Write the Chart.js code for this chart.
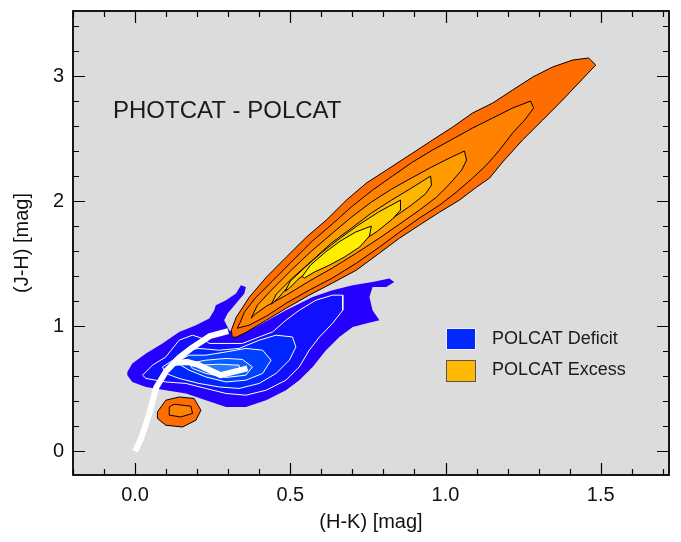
<!DOCTYPE html>
<html>
<head>
<meta charset="utf-8">
<script src="https://cdn.jsdelivr.net/npm/chart.js@4.4.1/dist/chart.umd.min.js"></script>
<style>
  html, body { margin: 0; padding: 0; background: #ffffff; }
  #wrap { width: 681px; height: 542px; }
</style>
</head>
<body>
<div id="wrap"><canvas id="c" width="681" height="542"></canvas></div>
<script>
// Axis ticks (major, labelled)
const xTickValues = [0.0, 0.5, 1.0, 1.5];
const yTickValues = [0, 1, 2, 3];

// POLCAT excess: filled density contours, outermost level first, as [H-K, J-H] vertices
const excessLevel1 = [[0.313,0.912],[0.310,0.968],[0.326,1.072],[0.368,1.232],[0.423,1.392],[0.487,1.552],[0.552,1.712],[0.616,1.848],[0.681,2.008],[0.745,2.144],[0.810,2.248],[0.894,2.384],[0.958,2.488],[1.023,2.592],[1.087,2.704],[1.152,2.784],[1.216,2.888],[1.281,2.992],[1.345,3.072],[1.410,3.128],[1.461,3.144],[1.484,3.088],[1.432,2.952],[1.377,2.808],[1.313,2.648],[1.248,2.488],[1.184,2.312],[1.142,2.184],[1.100,2.112],[1.045,2.008],[0.981,1.912],[0.916,1.808],[0.852,1.704],[0.787,1.584],[0.713,1.448],[0.635,1.344],[0.561,1.248],[0.487,1.144],[0.423,1.048],[0.358,0.952],[0.326,0.912]];
const excessLevel2 = [[0.329,0.984],[0.339,1.032],[0.352,1.112],[0.387,1.224],[0.442,1.360],[0.506,1.520],[0.571,1.680],[0.635,1.816],[0.700,1.960],[0.765,2.088],[0.829,2.200],[0.894,2.312],[0.958,2.408],[1.023,2.496],[1.087,2.584],[1.152,2.664],[1.216,2.744],[1.274,2.800],[1.284,2.744],[1.255,2.648],[1.216,2.544],[1.174,2.408],[1.132,2.288],[1.087,2.184],[1.035,2.072],[0.981,1.968],[0.916,1.864],[0.852,1.752],[0.787,1.632],[0.713,1.504],[0.635,1.384],[0.561,1.288],[0.487,1.184],[0.423,1.080],[0.368,1.008]];
const excessLevel3 = [[0.374,1.064],[0.394,1.168],[0.439,1.288],[0.503,1.448],[0.568,1.600],[0.632,1.736],[0.697,1.872],[0.761,1.992],[0.826,2.096],[0.890,2.184],[0.955,2.272],[1.019,2.352],[1.061,2.400],[1.068,2.328],[1.052,2.248],[1.013,2.136],[0.971,2.032],[0.916,1.928],[0.852,1.816],[0.787,1.704],[0.713,1.584],[0.635,1.464],[0.561,1.360],[0.487,1.248],[0.423,1.160],[0.387,1.096]];
const excessLevel4 = [[0.439,1.176],[0.455,1.256],[0.503,1.376],[0.568,1.520],[0.632,1.664],[0.697,1.784],[0.761,1.904],[0.826,2.008],[0.890,2.104],[0.952,2.200],[0.955,2.128],[0.935,2.056],[0.890,1.968],[0.835,1.872],[0.771,1.760],[0.706,1.656],[0.635,1.552],[0.568,1.448],[0.503,1.344],[0.461,1.224]];
const excessLevel5 = [[0.484,1.280],[0.500,1.360],[0.548,1.472],[0.603,1.592],[0.661,1.704],[0.719,1.808],[0.784,1.912],[0.855,2.008],[0.855,1.928],[0.829,1.856],[0.781,1.760],[0.723,1.664],[0.658,1.568],[0.594,1.480],[0.529,1.384],[0.497,1.304]];
const excessLevel6 = [[0.539,1.400],[0.565,1.488],[0.613,1.592],[0.661,1.680],[0.710,1.752],[0.761,1.800],[0.755,1.720],[0.723,1.632],[0.674,1.552],[0.626,1.488],[0.577,1.432],[0.545,1.384]];
// small excess island near the blue-dwarf end
const excessIslandOuter = [[0.072,0.314],[0.099,0.408],[0.142,0.434],[0.190,0.422],[0.212,0.328],[0.196,0.248],[0.153,0.194],[0.099,0.208],[0.072,0.262]];
const excessIslandInner = [[0.110,0.354],[0.126,0.376],[0.180,0.360],[0.185,0.302],[0.147,0.274],[0.112,0.288]];

// POLCAT deficit: filled density contours, outermost level first
const deficitLevel1 = [[-0.025,0.634],[-0.009,0.702],[0.035,0.782],[0.088,0.862],[0.142,0.954],[0.196,1.008],[0.239,1.062],[0.255,1.128],[0.260,1.168],[0.293,1.208],[0.325,1.262],[0.341,1.328],[0.357,1.314],[0.352,1.262],[0.325,1.182],[0.298,1.102],[0.287,1.048],[0.303,0.968],[0.335,0.928],[0.389,0.994],[0.486,1.128],[0.572,1.234],[0.636,1.288],[0.701,1.328],[0.765,1.354],[0.819,1.382],[0.835,1.354],[0.809,1.314],[0.765,1.314],[0.755,1.234],[0.765,1.128],[0.787,1.048],[0.744,1.022],[0.701,0.994],[0.658,0.914],[0.615,0.808],[0.572,0.674],[0.529,0.568],[0.486,0.488],[0.422,0.408],[0.357,0.354],[0.293,0.354],[0.228,0.408],[0.164,0.462],[0.099,0.488],[0.035,0.514],[-0.009,0.554],[-0.025,0.608]];
const deficitLevel2 = [[0.024,0.608],[0.056,0.688],[0.099,0.754],[0.142,0.888],[0.185,0.928],[0.217,0.902],[0.239,0.862],[0.293,0.862],[0.346,0.862],[0.400,0.914],[0.443,0.954],[0.486,1.048],[0.529,1.128],[0.583,1.208],[0.636,1.248],[0.669,1.248],[0.669,1.128],[0.636,1.022],[0.594,0.914],[0.561,0.808],[0.529,0.674],[0.486,0.568],[0.422,0.488],[0.357,0.448],[0.293,0.462],[0.228,0.502],[0.164,0.542],[0.099,0.554],[0.035,0.582]];
const deficitLevel3 = [[0.088,0.674],[0.131,0.742],[0.164,0.808],[0.206,0.822],[0.271,0.808],[0.335,0.822],[0.400,0.888],[0.454,0.928],[0.507,0.914],[0.518,0.834],[0.497,0.728],[0.454,0.622],[0.400,0.542],[0.335,0.502],[0.271,0.514],[0.206,0.542],[0.142,0.582],[0.099,0.622]];
const deficitLevel4 = [[0.142,0.728],[0.174,0.768],[0.228,0.768],[0.293,0.794],[0.357,0.822],[0.411,0.808],[0.438,0.728],[0.411,0.622],[0.357,0.568],[0.293,0.554],[0.228,0.594],[0.174,0.648],[0.147,0.688]];
const deficitLevel5 = [[0.174,0.702],[0.228,0.728],[0.293,0.742],[0.346,0.734],[0.378,0.674],[0.357,0.608],[0.293,0.590],[0.228,0.622],[0.185,0.662]];
const deficitLevel6 = [[0.206,0.688],[0.271,0.696],[0.335,0.688],[0.341,0.634],[0.282,0.616],[0.219,0.648]];

// Intrinsic colour loci (giant branch and dwarf branch)
const giantLocus = [[0.000,0.000],[0.019,0.100],[0.046,0.300],[0.068,0.510],[0.100,0.640],[0.143,0.750],[0.185,0.830],[0.240,0.920],[0.300,0.960]];
const dwarfLocus = [[0.120,0.705],[0.168,0.714],[0.206,0.688],[0.276,0.608],[0.362,0.662]];

const excessColors = ['#ff6c00', '#ff8200', '#ff9c00', '#ffb600', '#ffd000', '#ffee00'];
const deficitColors = ['#2600ff', '#1010ff', '#0026ff', '#0040ff', '#0a5cff', '#2a7aff'];

const FONT = '"Liberation Sans", Arial, Helvetica, sans-serif';

function toXY(pts) {
  const out = pts.map(p => ({ x: p[0], y: p[1] }));
  out.push({ x: pts[0][0], y: pts[0][1] });
  return out;
}
function contour(pts, fillColor, lineColor, order, width) {
  return {
    data: toXY(pts),
    showLine: true,
    fill: 'shape',
    backgroundColor: fillColor,
    borderColor: lineColor,
    borderWidth: width,
    pointRadius: 0,
    tension: 0,
    order: order
  };
}
function locus(pts, order) {
  return {
    data: pts.map(p => ({ x: p[0], y: p[1] })),
    showLine: true,
    fill: false,
    borderColor: '#ffffff',
    borderWidth: 6,
    borderJoinStyle: 'round',
    pointRadius: 0,
    tension: 0,
    order: order
  };
}

const deficitLevels = [deficitLevel1, deficitLevel2, deficitLevel3, deficitLevel4, deficitLevel5, deficitLevel6];
const excessLevels = [excessLevel1, excessLevel2, excessLevel3, excessLevel4, excessLevel5, excessLevel6];

const datasets = [];
let ord = 100;
deficitLevels.forEach((lv, i) => {
  datasets.push(contour(lv, deficitColors[i], i === 0 ? deficitColors[0] : '#ffffff', ord--, i === 0 ? 0 : 1));
});
datasets.push(locus(giantLocus, ord--));
datasets.push(locus(dwarfLocus, ord--));
excessLevels.forEach((lv, i) => {
  datasets.push(contour(lv, excessColors[i], '#000000', ord--, 1));
});
datasets.push(contour(excessIslandOuter, excessColors[0], '#000000', ord--, 1));
datasets.push(contour(excessIslandInner, excessColors[1], '#000000', ord--, 1));

const frame = {
  id: 'frame',
  beforeDraw(chart) {
    const { ctx, chartArea: a } = chart;
    ctx.save();
    ctx.fillStyle = '#dcdcdc';
    ctx.fillRect(a.left, a.top, a.right - a.left, a.bottom - a.top);
    ctx.restore();
  },
  afterDraw(chart) {
    const { ctx, chartArea: a } = chart;
    const xs = chart.scales.x, ys = chart.scales.y;
    ctx.save();
    ctx.strokeStyle = '#000';
    ctx.lineWidth = 1.2;
    ctx.beginPath();
    // x ticks every 0.1, major every 0.5
    for (let i = -2; i <= 17; i++) {
      const v = i / 10;
      const px = Math.round(xs.getPixelForValue(v)) + 0.5;
      const len = (i % 5 === 0) ? 12 : 6;
      ctx.moveTo(px, a.bottom); ctx.lineTo(px, a.bottom - len);
      ctx.moveTo(px, a.top); ctx.lineTo(px, a.top + len);
    }
    // y ticks every 0.2, major every 1
    for (let i = 0; i <= 17; i++) {
      const v = i / 5;
      const py = Math.round(ys.getPixelForValue(v)) + 0.5;
      const len = (i % 5 === 0) ? 12 : 6;
      ctx.moveTo(a.left, py); ctx.lineTo(a.left + len, py);
      ctx.moveTo(a.right, py); ctx.lineTo(a.right - len, py);
    }
    ctx.stroke();
    ctx.lineWidth = 1.8;
    ctx.strokeRect(a.left, a.top, a.right - a.left, a.bottom - a.top);

    // panel label
    ctx.fillStyle = '#1a1a1a';
    ctx.font = '24px ' + FONT;
    ctx.textAlign = 'left';
    ctx.textBaseline = 'middle';
    ctx.fillText('PHOTCAT - POLCAT', a.left + 40, a.top + 100);

    // legend
    ctx.font = '18px ' + FONT;
    const bx = a.left + 373, bw = 29, bh = 21;
    ctx.fillStyle = '#0028ff';
    ctx.fillRect(bx, a.top + 317, bw, bh);
    ctx.strokeStyle = '#f2f2f2'; ctx.lineWidth = 1;
    ctx.strokeRect(bx + 0.5, a.top + 317.5, bw, bh);
    ctx.fillStyle = '#ffb900';
    ctx.fillRect(bx, a.top + 349, bw, bh);
    ctx.strokeStyle = '#555'; ctx.lineWidth = 1;
    ctx.strokeRect(bx + 0.5, a.top + 349.5, bw, bh);
    ctx.fillStyle = '#1a1a1a';
    ctx.fillText('POLCAT Deficit', bx + 46, a.top + 328);
    ctx.fillText('POLCAT Excess', bx + 46, a.top + 359.5);
    ctx.restore();
  }
};

new Chart(document.getElementById('c'), {
  type: 'scatter',
  data: { datasets },
  options: {
    responsive: false,
    devicePixelRatio: 1,
    animation: false,
    events: [],
    layout: { padding: { top: 11, right: 12, left: 0, bottom: 0 } },
    plugins: { legend: { display: false }, tooltip: { enabled: false } },
    scales: {
      x: {
        type: 'linear', min: -0.2, max: 1.72,
        grid: { display: false, drawTicks: false },
        border: { display: false },
        afterFit(s) { s.height = 67; s.paddingLeft = 0; s.paddingRight = 0; },
        afterBuildTicks(s) { s.ticks = xTickValues.map(v => ({ value: v })); },
        ticks: { padding: 8, color: '#111', font: { family: FONT, size: 20 }, callback: v => Number(v).toFixed(1), maxRotation: 0, autoSkip: false },
        title: { display: true, text: '(H-K) [mag]', color: '#111', font: { family: FONT, size: 20 }, padding: { top: 0, bottom: 8 } }
      },
      y: {
        type: 'linear', min: -0.19, max: 3.52,
        grid: { display: false, drawTicks: false },
        border: { display: false },
        afterFit(s) { s.width = 73; s.paddingTop = 0; s.paddingBottom = 0; },
        afterBuildTicks(s) { s.ticks = yTickValues.map(v => ({ value: v })); },
        ticks: { padding: 9, color: '#111', font: { family: FONT, size: 20 }, callback: v => String(v), autoSkip: false },
        title: { display: true, text: '(J-H) [mag]', color: '#111', font: { family: FONT, size: 20 }, padding: { top: 10, bottom: 0 } }
      }
    }
  },
  plugins: [frame]
});
</script>
</body>
</html>
